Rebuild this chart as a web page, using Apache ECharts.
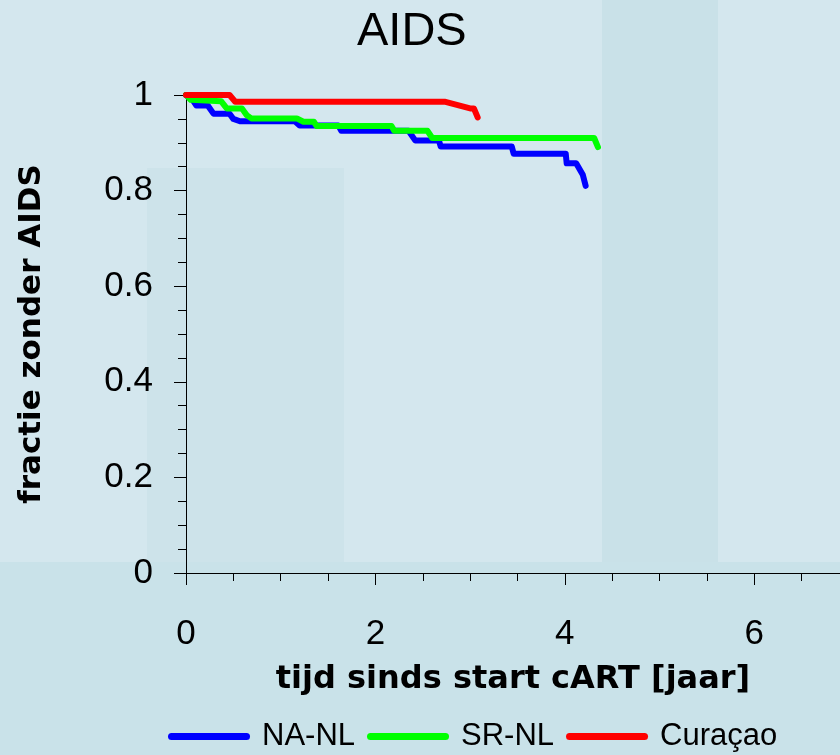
<!DOCTYPE html>
<html>
<head>
<meta charset="utf-8">
<script src="https://cdn.jsdelivr.net/npm/echarts@6/dist/echarts.min.js"></script>
<style>
  html, body { margin: 0; padding: 0; background: #d4e7ee; }
  #chart { width: 840px; height: 755px; }
</style>
</head>
<body>
<div id="chart"></div>
<script>
// Kaplan-Meier curves (corner points of the steps)
var naTime = [0, 0.07, 0.11, 0.23, 0.29, 0.46, 0.5, 0.57, 1.15, 1.2, 1.61, 1.64, 2.35, 2.42, 2.67, 2.69, 3.44, 3.46, 4.01, 4.02, 4.12, 4.19, 4.22];
var naSurv = [1, 0.99, 0.978, 0.978, 0.961, 0.961, 0.95, 0.945, 0.945, 0.936, 0.936, 0.925, 0.925, 0.905, 0.905, 0.892, 0.892, 0.877, 0.877, 0.857, 0.857, 0.833, 0.81];

var srTime = [0, 0.05, 0.07, 0.37, 0.43, 0.59, 0.64, 0.69, 1.17, 1.24, 1.35, 1.38, 2.17, 2.2, 2.55, 2.6, 4.31, 4.35];
var srSurv = [1, 0.99, 0.987, 0.987, 0.972, 0.972, 0.958, 0.951, 0.951, 0.944, 0.944, 0.935, 0.935, 0.925, 0.925, 0.91, 0.91, 0.891];

var cuTime = [0, 0.46, 0.52, 2.73, 3.0, 3.04, 3.08];
var cuSurv = [1, 1, 0.986, 0.986, 0.972, 0.972, 0.953];

var seriesNames = ['NA-NL', 'SR-NL', 'Curaçao'];
var seriesColors = ['#0000ff', '#00ff00', '#ff0000'];

var titleText = 'AIDS';
var xTitle = 'tijd sinds start cART [jaar]';
var yTitle = 'fractie zonder AIDS';

// x runs past the right edge of the picture (0 at 186px, 6 at 754px)
var xMax = 6.906;

function pairs(t, s) {
    return t.map(function (v, i) { return [v, s[i]]; });
}

var chart = echarts.init(document.getElementById('chart'));

var plain = "'Liberation Sans', Arial, sans-serif";
var heavy = "'DejaVu Sans', sans-serif";

function lineSeries(i, data) {
    return {
        name: seriesNames[i],
        type: 'line',
        data: data,
        symbol: 'none',
        showSymbol: false,
        color: seriesColors[i],
        lineStyle: { width: 6, color: seriesColors[i], cap: 'round', join: 'round' },
        z: 3 + i
    };
}

var option = {
    animation: false,
    backgroundColor: '#d4e7ee',
    // slide background patches
    graphic: [
        { type: 'rect', shape: { x: 0, y: 562, width: 840, height: 193 }, style: { fill: '#c9e2e9' }, z: -10, silent: true },
        { type: 'rect', shape: { x: 602, y: 0, width: 116, height: 562 }, style: { fill: '#c9e1e8' }, z: -10, silent: true },
        { type: 'rect', shape: { x: 147, y: 168, width: 197, height: 394 }, style: { fill: '#cde3ea' }, z: -10, silent: true }
    ],
    title: {
        text: titleText,
        left: 352,
        top: 4,
        textStyle: { fontFamily: plain, fontSize: 47, fontWeight: 'normal', color: '#000' }
    },
    legend: {
        data: seriesNames,
        left: 168,
        top: 721,
        padding: 0,
        itemWidth: 82,
        itemHeight: 7,
        itemGap: 12,
        icon: 'path://M3.5,0 H78.5 A3.5,3.5 0 0 1 78.5,7 H3.5 A3.5,3.5 0 0 1 3.5,0 Z',
        textStyle: { fontFamily: plain, fontSize: 31, color: '#000', padding: [0, 0, 0, 7] }
    },
    grid: { left: 186, top: 95, width: 654, height: 478 },
    xAxis: [{
        // minor ticks every 0.5, labels on the even years
        type: 'value',
        min: 0,
        max: xMax,
        interval: 0.5,
        name: xTitle,
        nameLocation: 'middle',
        nameGap: 91,
        nameTextStyle: { fontFamily: heavy, fontSize: 32, fontWeight: 'bold', color: '#000' },
        axisLine: { show: true, onZero: false, lineStyle: { color: '#000', width: 1 } },
        axisTick: { show: true, length: 8, lineStyle: { color: '#000' } },
        axisLabel: {
            fontFamily: plain, fontSize: 35, color: '#000', margin: 44, showMaxLabel: false,
            formatter: function (v) { return v % 2 === 0 ? String(v) : ''; }
        },
        splitLine: { show: false }
    }, {
        // long ticks on the even years
        type: 'value',
        position: 'bottom',
        min: 0,
        max: xMax,
        interval: 2,
        axisLine: { show: false, onZero: false },
        axisTick: { show: true, length: 12, lineStyle: { color: '#000' } },
        axisLabel: { show: false },
        splitLine: { show: false }
    }],
    yAxis: {
        type: 'value',
        min: 0,
        max: 1,
        interval: 0.2,
        name: yTitle,
        nameLocation: 'middle',
        nameGap: 139,
        nameTextStyle: { fontFamily: heavy, fontSize: 31, fontWeight: 'bold', color: '#000' },
        axisLine: { show: true, onZero: false, lineStyle: { color: '#000', width: 1 } },
        axisTick: { show: true, length: 12, lineStyle: { color: '#000' } },
        minorTick: { show: true, splitNumber: 4, length: 8, lineStyle: { color: '#000' } },
        axisLabel: { fontFamily: plain, fontSize: 35, color: '#000', margin: 33 },
        splitLine: { show: false }
    },
    series: [
        lineSeries(0, pairs(naTime, naSurv)),
        lineSeries(1, pairs(srTime, srSurv)),
        lineSeries(2, pairs(cuTime, cuSurv))
    ]
};

chart.setOption(option);
</script>
</body>
</html>
